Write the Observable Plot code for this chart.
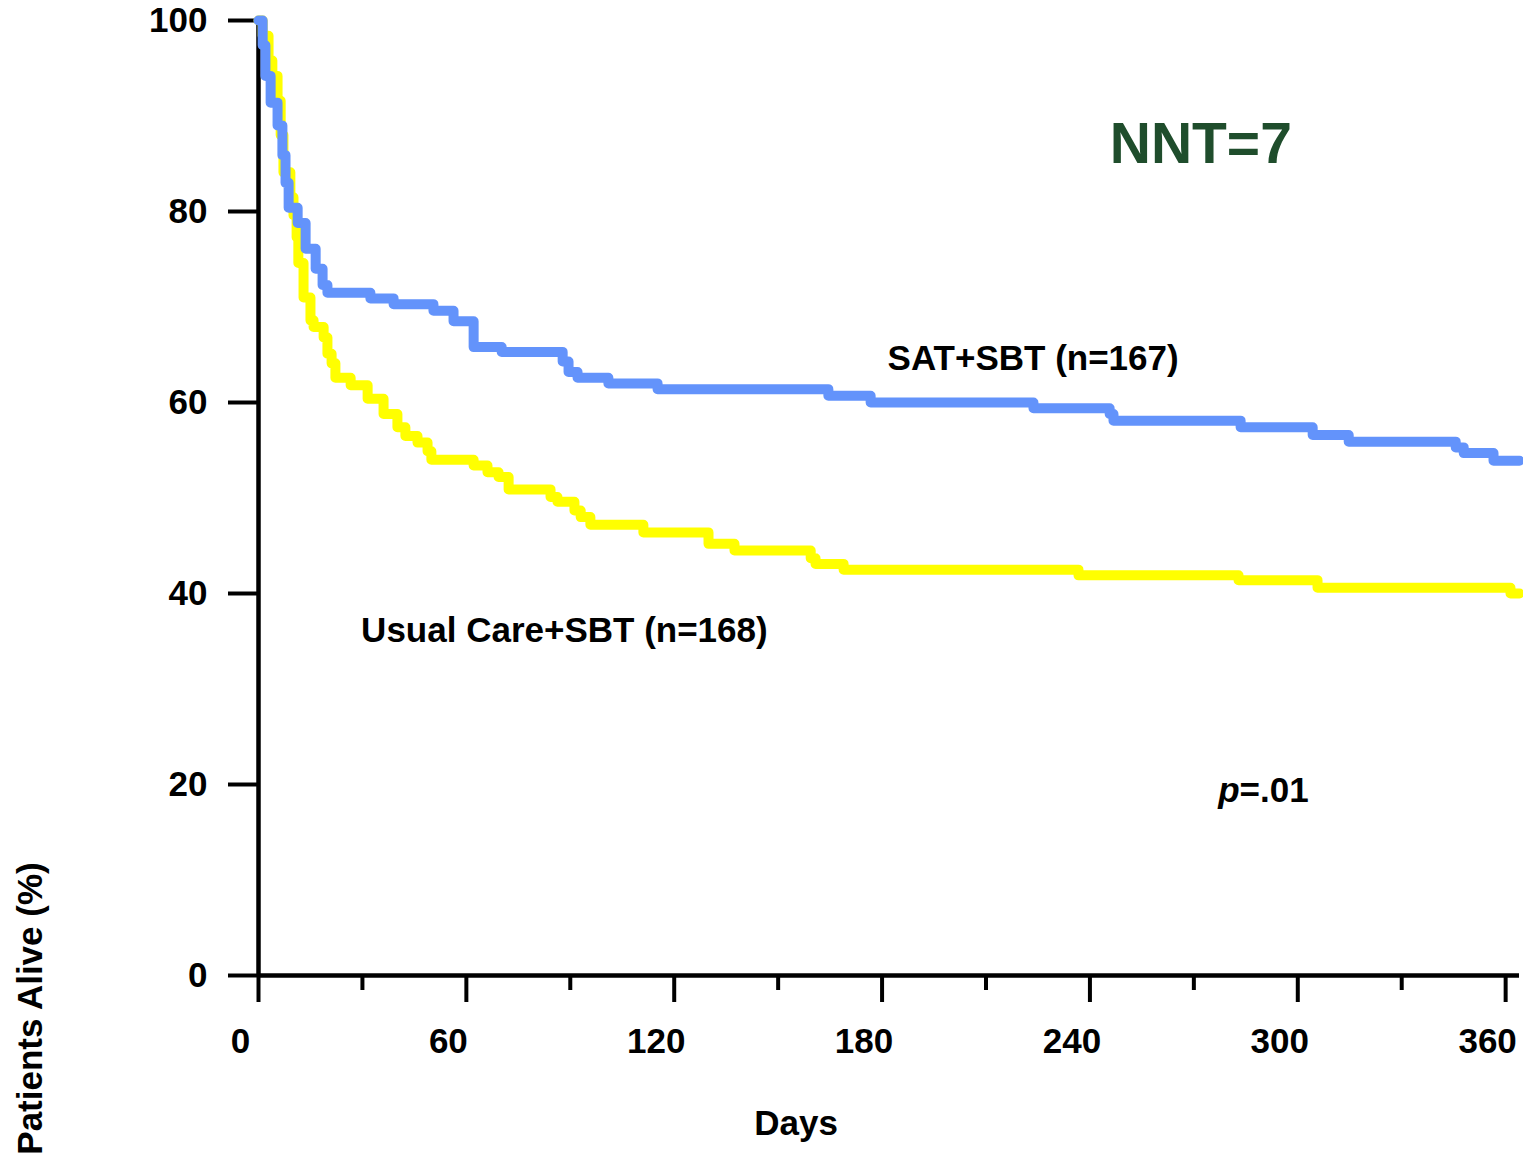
<!DOCTYPE html>
<html>
<head>
<meta charset="utf-8">
<script src="https://cdn.jsdelivr.net/npm/d3@7"></script>
<script src="https://cdn.jsdelivr.net/npm/@observablehq/plot@0.6"></script>
<style>
  html, body { margin: 0; padding: 0; background: #fff; }
  svg { display: block; }
</style>
</head>
<body>
<script>
// Tick values
const xMajorTicks = [0, 60, 120, 180, 240, 300, 360];
const xMinorTicks = [30, 90, 150, 210, 270, 330];
const yTicks = [0, 20, 40, 60, 80, 100];

// SAT+SBT (blue) Kaplan-Meier steps
const satDays = [0, 1.2, 2.0, 3.5, 5.5, 6.9, 7.8, 8.7, 11.3, 13.6, 16.5, 18.5, 19.9, 32.3, 39.0, 50.5, 56.3, 62.1, 70.2, 87.8, 89.5, 92.1, 101.0, 115.2, 164.5, 176.7, 223.7, 245.7, 246.8, 283.5, 304.3, 314.7, 345.6, 347.9, 356.5, 364];
const satSurv = [100, 97.4, 94.2, 91.4, 89.0, 85.9, 83.0, 80.4, 78.8, 76.1, 74.0, 72.3, 71.5, 70.9, 70.3, 69.6, 68.5, 65.8, 65.3, 64.3, 63.2, 62.6, 62.0, 61.4, 60.7, 60.0, 59.4, 58.8, 58.1, 57.4, 56.6, 55.9, 55.3, 54.7, 53.9, 53.9];

// Usual Care+SBT (yellow) Kaplan-Meier steps
const ucDays = [0, 1.2, 2.9, 4.0, 5.5, 6.4, 7.2, 9.2, 10.1, 11.0, 11.5, 13.0, 15.0, 15.9, 18.8, 19.9, 21.1, 22.2, 26.6, 31.5, 36.1, 40.1, 42.4, 45.9, 48.8, 49.9, 62.1, 66.1, 69.3, 72.2, 84.3, 86.3, 91.2, 93.0, 95.8, 111.1, 129.9, 137.4, 159.4, 160.8, 168.9, 236.7, 282.9, 305.7, 361.4, 364];
const ucSurv = [100, 98.4, 95.8, 94.2, 91.6, 88.0, 84.1, 81.5, 79.6, 77.3, 74.6, 71.0, 68.6, 67.9, 66.8, 65.1, 64.1, 62.6, 61.8, 60.4, 58.8, 57.4, 56.5, 55.8, 54.9, 54.0, 53.4, 52.7, 52.2, 50.9, 50.1, 49.6, 48.7, 48.0, 47.2, 46.4, 45.2, 44.5, 43.7, 43.1, 42.5, 41.9, 41.4, 40.6, 40.0, 40.0];

const sat = satDays.map((d, i) => ({day: d, pct: satSurv[i]}));
const uc = ucDays.map((d, i) => ({day: d, pct: ucSurv[i]}));

const FONT = "'Liberation Sans', Arial, Helvetica, sans-serif";

const plot = Plot.plot({
  width: 1523,
  height: 1158,
  marginLeft: 258,
  marginRight: 4,
  marginTop: 20,
  marginBottom: 183,
  x: {domain: [0, 364]},
  y: {domain: [0, 100]},
  style: {fontFamily: FONT, fontWeight: "bold", fontSize: "35px", color: "#000", background: "#fff", overflow: "visible"},
  marks: [
    Plot.axisY(yTicks, {tickSize: 30, strokeWidth: 4, fill: "none", label: null}),
    Plot.axisY(yTicks, {tickSize: 0, tickPadding: 51, fontSize: 35, fontWeight: "bold", label: null}),
    Plot.axisX(xMajorTicks, {tickSize: 27, strokeWidth: 4, fill: "none", label: null}),
    Plot.axisX(xMinorTicks, {tickSize: 15, strokeWidth: 4, fill: "none", label: null}),
    Plot.axisX(xMajorTicks, {tickSize: 0, tickPadding: 53, dx: -18, fontSize: 35, fontWeight: "bold", label: null}),
    Plot.ruleX([0], {strokeWidth: 4.5, stroke: "#000"}),
    Plot.ruleY([0], {strokeWidth: 4.5, stroke: "#000"}),
    Plot.line(uc, {x: "day", y: "pct", curve: "step-after", stroke: "#ffff00", strokeWidth: 10}),
    Plot.line(sat, {x: "day", y: "pct", curve: "step-after", stroke: "#6393fb", strokeWidth: 10}),
    Plot.text(["NNT=7"], {x: 272, y: 87, fontSize: 57, fontWeight: "bold", fill: "#1f4d2c", textAnchor: "middle", lineAnchor: "middle"}),
    Plot.text(["SAT+SBT (n=167)"], {x: 223.6, y: 64.6, fontSize: 35, fontWeight: "bold", textAnchor: "middle", lineAnchor: "middle"}),
    Plot.text(["Usual Care+SBT (n=168)"], {x: 88.3, y: 36.1, fontSize: 35, fontWeight: "bold", textAnchor: "middle", lineAnchor: "middle"}),
    Plot.text(["p"], {x: 283.2, y: 19.3, fontSize: 35, fontWeight: "bold", fontStyle: "italic", textAnchor: "end", lineAnchor: "middle"}),
    Plot.text(["=.01"], {x: 283.2, y: 19.3, fontSize: 35, fontWeight: "bold", textAnchor: "start", lineAnchor: "middle"}),
    Plot.text(["Days"], {frameAnchor: "bottom", dx: -93, dy: 148, fontSize: 35, fontWeight: "bold", textAnchor: "middle", lineAnchor: "middle"}),
    Plot.text(["Patients Alive (%)"], {frameAnchor: "bottom-left", dx: -228, dy: 33, rotate: -90, fontSize: 35, fontWeight: "bold", textAnchor: "middle", lineAnchor: "middle"})
  ]
});
document.body.appendChild(plot);
</script>
</body>
</html>
